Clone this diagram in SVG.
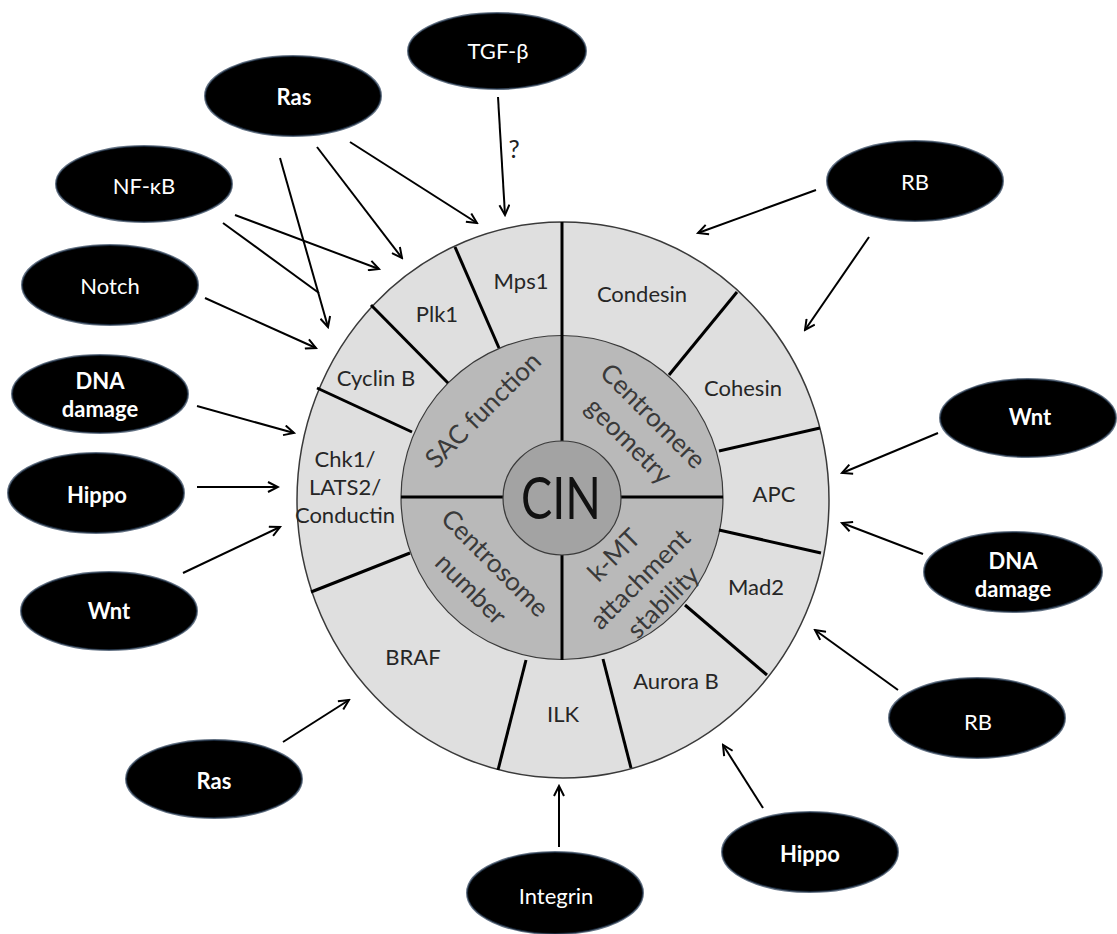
<svg xmlns="http://www.w3.org/2000/svg" width="1117" height="934" viewBox="0 0 1117 934">
<style>
.node{fill:#000;stroke:#22364f;stroke-width:2;stroke-opacity:0.7}
.nt{fill:#fff;font-family:Lato,"Open Sans",sans-serif;font-size:22px;text-anchor:middle}
.b{font-weight:bold}
.ol{fill:#262626;font-family:Lato,"Open Sans",sans-serif;font-size:22px;text-anchor:middle}
.il{fill:#3a3a3a;font-family:Lato,"Open Sans",sans-serif;font-size:26px;text-anchor:middle}
.div{stroke:#000;stroke-width:3;fill:none}
.arr{stroke:#000;stroke-width:2;fill:none}
</style>
<defs>
<marker id="ah" viewBox="-1 -1 13 12" refX="10" refY="5" markerWidth="13" markerHeight="12" markerUnits="userSpaceOnUse" orient="auto">
<path d="M0,0 L10,5 L0,10" fill="none" stroke="#000" stroke-width="2"/>
</marker>
</defs>
<rect width="1117" height="934" fill="#fff"/>

<g id="wheel">
<ellipse cx="563" cy="500" rx="266" ry="278" fill="#dfdfdf" stroke="#3a3a3a" stroke-width="1.5"/>
<ellipse cx="562" cy="497.5" rx="161" ry="162" fill="#b9b9b9" stroke="#3a3a3a" stroke-width="1.2"/>
<line class="div" x1="455" y1="247" x2="499" y2="348"/>
<line class="div" x1="371" y1="305" x2="448" y2="383"/>
<line class="div" x1="317" y1="388" x2="412" y2="432"/>
<line class="div" x1="311" y1="592" x2="410" y2="553"/>
<line class="div" x1="526" y1="660" x2="498" y2="770"/>
<line class="div" x1="603" y1="659" x2="631" y2="768"/>
<line class="div" x1="685" y1="605" x2="767" y2="675"/>
<line class="div" x1="719" y1="530" x2="821" y2="553"/>
<line class="div" x1="719" y1="451" x2="820" y2="428"/>
<line class="div" x1="669" y1="375" x2="737" y2="292"/>
<line class="div" x1="562" y1="222" x2="562" y2="442"/>
<line class="div" x1="562" y1="554" x2="562" y2="660"/>
<line class="div" x1="401" y1="497" x2="504" y2="497"/>
<line class="div" x1="620" y1="497" x2="723" y2="497"/>
<ellipse cx="562" cy="498" rx="59" ry="57" fill="#a3a3a3" stroke="#3a3a3a" stroke-width="1.2"/>
<text x="561" y="519" font-family="Lato,'Open Sans',sans-serif" font-size="58" text-anchor="middle" fill="#111" textLength="80" lengthAdjust="spacingAndGlyphs">CIN</text>
</g>

<g id="outer-labels">
<text class="ol" x="521" y="289">Mps1</text>
<text class="ol" x="642" y="302">Condesin</text>
<text class="ol" x="437" y="322">Plk1</text>
<text class="ol" x="376" y="386">Cyclin B</text>
<text class="ol" x="743" y="396">Cohesin</text>
<text class="ol" x="345" y="467">Chk1/</text>
<text class="ol" x="345" y="495">LATS2/</text>
<text class="ol" x="345" y="523">Conductin</text>
<text class="ol" x="774" y="502">APC</text>
<text class="ol" x="756" y="595">Mad2</text>
<text class="ol" x="413" y="665">BRAF</text>
<text class="ol" x="676" y="689">Aurora B</text>
<text class="ol" x="563" y="722">ILK</text>
</g>

<g id="inner-labels">
<text class="il" transform="translate(483,410) rotate(-45)" dy="9">SAC function</text>
<text class="il" transform="translate(653,416) rotate(45)" dy="9">Centromere</text>
<text class="il" transform="translate(629,441) rotate(45)" dy="9">geometry</text>
<text class="il" transform="translate(495,563) rotate(45)" dy="9">Centrosome</text>
<text class="il" transform="translate(471,589) rotate(45)" dy="9">number</text>
<text class="il" transform="translate(614,555) rotate(-45)" dy="9">k-MT</text>
<text class="il" transform="translate(640,579) rotate(-45)" dy="9">attachment</text>
<text class="il" transform="translate(663,602) rotate(-45)" dy="9">stability</text>
</g>

<g id="connectors">
<line class="arr" x1="498" y1="97" x2="505" y2="215" marker-end="url(#ah)"/>
<line class="arr" x1="350" y1="142" x2="477" y2="223" marker-end="url(#ah)"/>
<line class="arr" x1="317" y1="147" x2="402" y2="258" marker-end="url(#ah)"/>
<line class="arr" x1="280" y1="158" x2="328" y2="327" marker-end="url(#ah)"/>
<line class="arr" x1="235" y1="215" x2="379" y2="269" marker-end="url(#ah)"/>
<line class="arr" x1="223" y1="223" x2="319" y2="293"/>
<line class="arr" x1="205" y1="298" x2="316" y2="348" marker-end="url(#ah)"/>
<line class="arr" x1="197" y1="406" x2="294" y2="433" marker-end="url(#ah)"/>
<line class="arr" x1="197" y1="487" x2="278" y2="487" marker-end="url(#ah)"/>
<line class="arr" x1="183" y1="573" x2="280" y2="527" marker-end="url(#ah)"/>
<line class="arr" x1="283" y1="742" x2="349" y2="700" marker-end="url(#ah)"/>
<line class="arr" x1="559" y1="847" x2="559" y2="786" marker-end="url(#ah)"/>
<line class="arr" x1="763" y1="808" x2="723" y2="745" marker-end="url(#ah)"/>
<line class="arr" x1="898" y1="690" x2="815" y2="630" marker-end="url(#ah)"/>
<line class="arr" x1="923" y1="554" x2="842" y2="523" marker-end="url(#ah)"/>
<line class="arr" x1="938" y1="433" x2="842" y2="473" marker-end="url(#ah)"/>
<line class="arr" x1="816" y1="190" x2="698" y2="233" marker-end="url(#ah)"/>
<line class="arr" x1="869" y1="237" x2="805" y2="330" marker-end="url(#ah)"/>
<text x="514" y="158" font-family="Lato,'Open Sans',sans-serif" font-size="25" fill="#222" text-anchor="middle">?</text>
</g>

<g id="n-tgf"><ellipse class="node" cx="497" cy="51" rx="89" ry="38"/><text class="nt" x="498" y="59">TGF-β</text></g>
<g id="n-ras-top"><ellipse class="node" cx="293" cy="96" rx="88" ry="40"/><text class="nt b" x="294" y="105">Ras</text></g>
<g id="n-nfkb"><ellipse class="node" cx="144" cy="184" rx="88" ry="38"/><text class="nt" x="144" y="194">NF-κB</text></g>
<g id="n-notch"><ellipse class="node" cx="110" cy="285" rx="88" ry="40"/><text class="nt" x="110" y="294">Notch</text></g>
<g id="n-rb-top"><ellipse class="node" cx="915" cy="181" rx="88" ry="40"/><text class="nt" x="915" y="190">RB</text></g>
<g id="n-dna-left"><ellipse class="node" cx="100" cy="394" rx="88" ry="39"/><text class="nt b" x="100" y="389">DNA</text><text class="nt b" x="100" y="417">damage</text></g>
<g id="n-hippo-left"><ellipse class="node" cx="96" cy="493" rx="88" ry="40"/><text class="nt b" x="97" y="503">Hippo</text></g>
<g id="n-wnt-left"><ellipse class="node" cx="109" cy="611" rx="88" ry="39"/><text class="nt b" x="109" y="619">Wnt</text></g>
<g id="n-wnt-right"><ellipse class="node" cx="1028" cy="418" rx="88" ry="39"/><text class="nt b" x="1030" y="425">Wnt</text></g>
<g id="n-dna-right"><ellipse class="node" cx="1013" cy="572" rx="89" ry="40"/><text class="nt b" x="1013" y="569">DNA</text><text class="nt b" x="1013" y="597">damage</text></g>
<g id="n-rb-right"><ellipse class="node" cx="977" cy="718" rx="88" ry="40"/><text class="nt" x="978" y="730">RB</text></g>
<g id="n-hippo-bottom"><ellipse class="node" cx="810" cy="852" rx="88" ry="40"/><text class="nt b" x="810" y="862">Hippo</text></g>
<g id="n-integrin"><ellipse class="node" cx="555" cy="893" rx="88" ry="41"/><text class="nt" x="556" y="904">Integrin</text></g>
<g id="n-ras-bottom"><ellipse class="node" cx="214" cy="779" rx="88" ry="39"/><text class="nt b" x="214" y="789">Ras</text></g>
</svg>
